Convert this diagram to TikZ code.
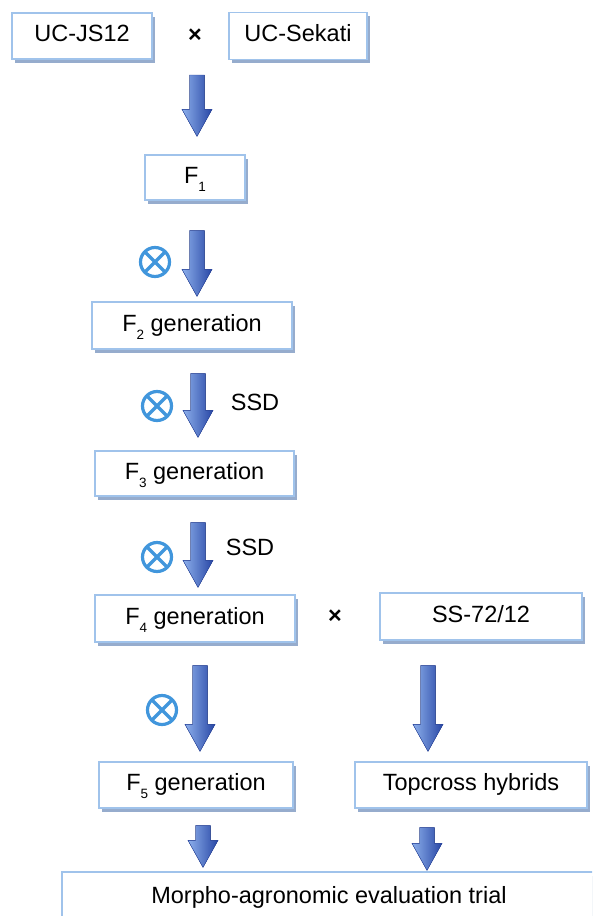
\documentclass[tikz,border=0pt]{standalone}
\usepackage{fontspec}
\setmainfont{Liberation Sans}
\usetikzlibrary{calc,shadows}

\definecolor{boxline}{RGB}{160,195,235}
\definecolor{boxshadow}{RGB}{150,172,205}
\definecolor{arrowlight}{RGB}{140,175,235}
\definecolor{arrowdark}{RGB}{40,70,165}
\definecolor{selfcol}{RGB}{65,150,220}

\def\gen#1{\raisebox{-8pt}{\fontsize{13.5}{13.5}\selectfont #1}}
\def\blockarrow#1#2{\fill[arrowshade] let \p1=#1, \p2=#2 in
	(\x1-7.5pt,\y1) -- (\x1+7.5pt,\y1) -- (\x1+7.5pt,\y2+27pt) -- (\x1+15pt,\y2+27pt)
	-- (\x1,\y2) -- (\x1-15pt,\y2+27pt) -- (\x1-7.5pt,\y2+27pt) -- cycle;}

\begin{document}
\begin{tikzpicture}[x=1pt,y=-1pt,font=\fontsize{23.5}{28}\selectfont,
	box/.style={draw=boxline,fill=white,line width=1.2pt,inner sep=0pt,text height=15pt,text depth=4pt,
		drop shadow={shadow xshift=3pt,shadow yshift=-3.5pt,fill=boxshadow,opacity=1}},
	lbl/.style={inner sep=0pt,text height=17pt,text depth=0pt},
	selfing/.style={circle,draw=selfcol,line width=3.2pt,minimum size=29pt,inner sep=0pt,
		path picture={\draw[selfcol,line width=3.2pt]
			(path picture bounding box.north west) -- (path picture bounding box.south east)
			(path picture bounding box.north east) -- (path picture bounding box.south west);}},
	arrowshade/.style={left color=arrowlight,right color=arrowdark,draw=arrowdark,line width=0.4pt}]
			\useasboundingbox (0,0) rectangle (592,916);
			\clip (0,0) rectangle (592,916);

			% parents
			\node[box,minimum width=140pt,minimum height=46pt] (js) at (82,36) {UC-JS12};
			\node[lbl] (x1) at (195,34) {\bfseries ×};
			\node[box,minimum width=138pt,minimum height=47pt] (sekati) at (298,36) {UC-Sekati};

			% selfing generations
			\node[box,minimum width=100pt,minimum height=45pt] (f1) at (195,177.5) {F\gen{1}};
			\node[box,minimum width=200pt,minimum height=47pt] (f2) at (192,325.5) {F\gen{2} generation};
			\node[box,minimum width=199pt,minimum height=45pt] (f3) at (194.5,473.5) {F\gen{3} generation};
			\node[box,minimum width=200pt,minimum height=47pt] (f4) at (195,618.5) {F\gen{4} generation};
			\node[box,minimum width=194pt,minimum height=46pt] (f5) at (196,785) {F\gen{5} generation};

			% tester and topcross
			\node[lbl] (x2) at (335,615) {\bfseries ×};
			\node[box,minimum width=202pt,minimum height=47pt] (ss) at (481,616.5) {SS-72/12};
			\node[box,minimum width=232pt,minimum height=46pt] (top) at (471,785) {Topcross hybrids};

			% evaluation
			\node[box,minimum width=534pt,minimum height=51pt] (trial) at (329,897.5) {Morpho-agronomic evaluation trial};

			% selfing marks and SSD
			\node[selfing] (s1) at (155,262) {};
			\node[selfing] (s2) at (157,406) {};
			\node[selfing] (s3) at (157,557) {};
			\node[selfing] (s4) at (162,710) {};
			\node[lbl] (ssd1) at (255,402) {SSD};
			\node[lbl] (ssd2) at (250,547) {SSD};

			% arrows
			\blockarrow{([xshift=2pt,yshift=-41pt]x1.center)}{([yshift=18pt]f1.north)}
			\blockarrow{([xshift=2pt,yshift=-30pt]f1.south)}{([yshift=5pt]f2.north)}
			\blockarrow{([xshift=6pt,yshift=-24pt]f2.south)}{([yshift=13pt]f3.north)}
			\blockarrow{([xshift=3.5pt,yshift=-26pt]f3.south)}{([yshift=7pt]f4.north)}
			\blockarrow{([xshift=5pt,yshift=-23pt]f4.south)}{([yshift=10pt]f5.north)}
			\blockarrow{([xshift=-53pt,yshift=-25pt]ss.south)}{([yshift=10pt]top.north)}
			\blockarrow{([xshift=7pt,yshift=-17pt]f5.south)}{([yshift=4pt]trial.north)}
			\blockarrow{([xshift=-44pt,yshift=-19pt]top.south)}{([yshift=1pt]trial.north)}
		\end{tikzpicture}
\end{document}
